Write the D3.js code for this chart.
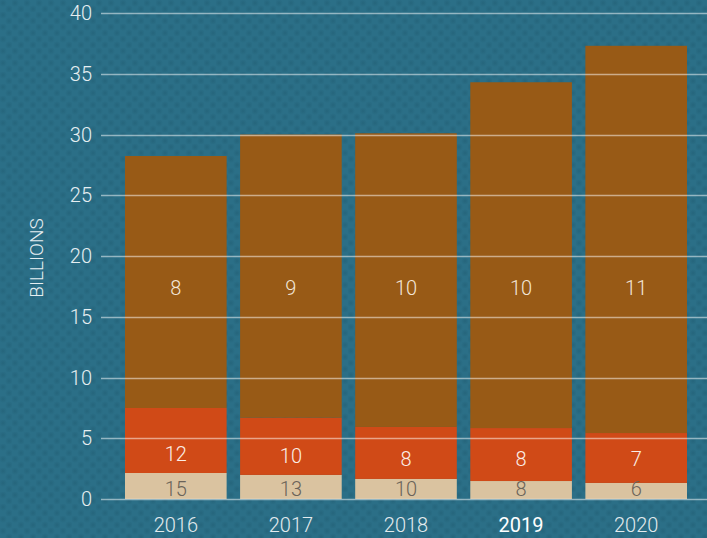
<!DOCTYPE html>
<html><head><meta charset="utf-8">
<script src="https://cdn.jsdelivr.net/npm/d3@7"></script>
<style>
html,body{margin:0;padding:0;background:#2b6f87;}
svg{display:block;font-family:Roboto,"Open Sans",sans-serif;font-weight:300;}
</style></head>
<body>
<script>
const years = ["2016","2017","2018","2019","2020"];
const bottomValues = [2.14, 1.98, 1.65, 1.48, 1.32];
const middleValues = [5.35, 4.71, 4.28, 4.36, 4.11];
const topValues = [20.74, 23.31, 24.17, 28.46, 31.87];
const bottomLabels = ["15","13","10","8","6"];
const middleLabels = ["12","10","8","8","7"];
const topLabels = ["8","9","10","10","11"];
const yTicks = [0,5,10,15,20,25,30,35,40];
const yTitle = "BILLIONS";

const W = 707, H = 538;
const svg = d3.select("body").append("svg").attr("width", W).attr("height", H);

const defs = svg.append("defs");
const pat = defs.append("pattern").attr("id","bgpat").attr("patternUnits","userSpaceOnUse")
  .attr("width",12).attr("height",12);
pat.append("rect").attr("width",12).attr("height",12).attr("fill","#2b6f87");
const grad = defs.append("radialGradient").attr("id","spot");
grad.append("stop").attr("offset","0%").attr("stop-color","#1f5a6f").attr("stop-opacity",0.45);
grad.append("stop").attr("offset","100%").attr("stop-color","#1f5a6f").attr("stop-opacity",0);
[[3,3],[9,9]].forEach(([cx,cy])=>pat.append("circle").attr("cx",cx).attr("cy",cy).attr("r",4).attr("fill","url(#spot)"));
svg.append("rect").attr("width",W).attr("height",H).attr("fill","url(#bgpat)");

const x = d3.scaleBand().domain(years).range([125, 687]).paddingInner(0.117).paddingOuter(0);
const y = d3.scaleLinear().domain([0,40]).range([499, 13]);

const stackData = years.map((yr,i)=>({year:yr, bottom:bottomValues[i], middle:middleValues[i], top:topValues[i]}));
const series = d3.stack().keys(["bottom","middle","top"])(stackData);
const colors = {bottom:"#dac3a0", middle:"#d04a17", top:"#985a16"};

svg.append("g").selectAll("g").data(series).join("g")
  .attr("fill", d=>colors[d.key])
  .selectAll("rect").data(d=>d).join("rect")
  .attr("x", d=>x(d.data.year))
  .attr("width", x.bandwidth())
  .attr("y", d=>y(d[1]))
  .attr("height", d=>y(d[0])-y(d[1]));

// gridlines on top
const grid = svg.append("g");
grid.selectAll("line").data(yTicks).join("line")
  .attr("x1", 101).attr("x2", W)
  .attr("y1", d=>Math.round(y(d))+0.5).attr("y2", d=>Math.round(y(d))+0.5)
  .attr("stroke","rgba(255,255,255,0.5)").attr("stroke-width",1.5);

// y tick labels
svg.append("g").selectAll("text").data(yTicks).join("text")
  .attr("x", 92).attr("y", d=>y(d)).attr("dy","0.35em")
  .attr("text-anchor","end").attr("font-size",20).attr("fill","#e6eef1")
  .text(d=>d);

// y title
svg.append("text").attr("transform",`translate(43,${y(20)+2}) rotate(-90)`)
  .attr("text-anchor","middle").attr("font-size",19).attr("fill","#e6eef1")
  .text(yTitle);

// x labels
svg.append("g").selectAll("text").data(years).join("text")
  .attr("x", d=>x(d)+x.bandwidth()/2).attr("y", 532)
  .attr("text-anchor","middle").attr("font-size",20)
  .attr("fill", d=>d==="2019"?"#ffffff":"#e3ebee")
  .attr("font-weight", d=>d==="2019"?400:300)
  .text(d=>d);

// segment labels
const cx = i=>x(years[i])+x.bandwidth()/2;
const lbl = svg.append("g").attr("text-anchor","middle").attr("font-size",20);
lbl.selectAll(".tl").data(topLabels).join("text").attr("class","tl")
  .attr("x",(d,i)=>cx(i)).attr("y", y(16.8)).attr("fill","#f3e6d8").text(d=>d);
lbl.selectAll(".ml").data(middleLabels).join("text").attr("class","ml")
  .attr("x",(d,i)=>cx(i)).attr("y",(d,i)=>Math.min(y(bottomValues[i])-12, y(2.75)))
  .attr("fill","#fbeee6").text(d=>d);
lbl.selectAll(".bl").data(bottomLabels).join("text").attr("class","bl")
  .attr("x",(d,i)=>cx(i)).attr("y", y(0)-3.5).attr("fill","#6b6359").text(d=>d);
</script>
</body></html>
